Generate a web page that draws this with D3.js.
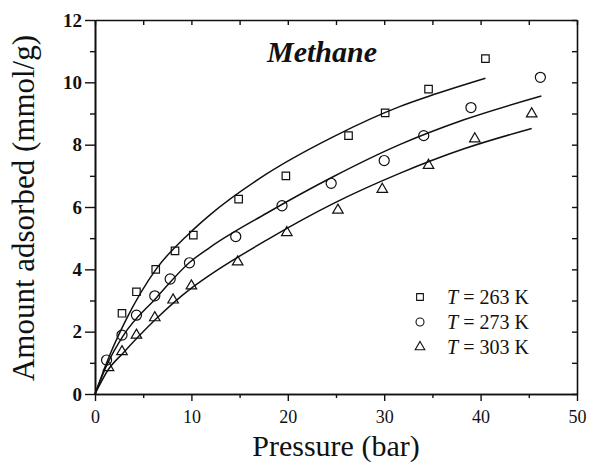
<!DOCTYPE html>
<html>
<head>
<meta charset="utf-8">
<script src="https://cdn.jsdelivr.net/npm/d3@7"></script>
<style>
  body { margin: 0; background: #fff; }
</style>
</head>
<body>
<svg width="590" height="462"></svg>
<script>
// measured points (pressure in bar, uptake in mmol/g)
var pressure263 = [2.8, 4.3, 6.3, 8.3, 10.2, 14.9, 19.8, 26.3, 30.1, 34.6, 40.5];
var uptake263   = [2.59, 3.28, 4.0, 4.59, 5.10, 6.25, 7.0, 8.29, 9.02, 9.78, 10.76];
var pressure273 = [1.2, 2.8, 4.3, 6.2, 7.8, 9.8, 14.6, 19.4, 24.5, 30.0, 34.1, 39.0, 46.2];
var uptake273   = [1.09, 1.89, 2.53, 3.15, 3.69, 4.21, 5.05, 6.04, 6.76, 7.49, 8.29, 9.19, 10.16];
var pressure303 = [1.4, 2.8, 4.3, 6.2, 8.1, 10.0, 14.8, 19.9, 25.2, 29.8, 34.6, 39.4, 45.3];
var uptake303   = [0.88, 1.39, 1.92, 2.48, 3.05, 3.50, 4.27, 5.21, 5.93, 6.6, 7.37, 8.22, 9.02];

// fitted isotherms
var fitP263 = [0, 1.6, 3.2, 6.4, 9.8, 11.9, 17.8, 24.7, 31.6, 34.7, 40.5];
var fitQ263 = [0, 1.30, 2.37, 4.03, 5.16, 5.74, 7.06, 8.25, 9.22, 9.56, 10.13];
var fitP273 = [0, 1.3, 2.9, 6.4, 9.8, 11.9, 17.8, 24.7, 31.6, 38.2, 46.3];
var fitQ273 = [0, 0.98, 1.86, 3.1, 4.22, 4.7, 5.8, 6.97, 8.0, 8.79, 9.56];
var fitP303 = [0, 1.35, 2.9, 6.4, 9.8, 11.6, 17.8, 24.7, 31.6, 38.2, 45.3];
var fitQ303 = [0, 0.77, 1.31, 2.43, 3.35, 3.75, 4.94, 6.11, 7.08, 7.86, 8.52];

var legendLabels = ["263 K", "273 K", "303 K"];
var xTicks = [0, 10, 20, 30, 40, 50];
var yTicks = [0, 2, 4, 6, 8, 10, 12];

var FONT = "'Liberation Serif', 'Times New Roman', Times, serif";

var svg = d3.select("svg");

var x = d3.scaleLinear().domain([0, 50]).range([95, 577]);
var y = d3.scaleLinear().domain([0, 12]).range([394, 20]);

var symbols = [d3.symbolSquare, d3.symbolCircle, d3.symbolTriangle];
var series = [
  {p: pressure263, q: uptake263, fp: fitP263, fq: fitQ263},
  {p: pressure273, q: uptake273, fp: fitP273, fq: fitQ273},
  {p: pressure303, q: uptake303, fp: fitP303, fq: fitQ303}
];

var axisStyle = function(g) {
  g.selectAll("path, line").attr("stroke", "#111").attr("stroke-width", 1.4);
  g.select(".domain").attr("stroke-width", 1.6);
};

// left axis: minor + major, outward
svg.append("g")
    .attr("transform", "translate(95,0)")
    .call(d3.axisLeft(y).tickValues(d3.range(1, 12, 2)).tickSize(5).tickSizeOuter(0).tickFormat(""))
    .call(axisStyle);
var yAx = svg.append("g")
    .attr("transform", "translate(95,0)")
    .call(d3.axisLeft(y).tickValues(yTicks).tickSize(10).tickSizeOuter(0).tickPadding(3).tickFormat(d3.format("d")))
    .call(axisStyle);
yAx.attr("font-family", null);
yAx.selectAll("text")
    .style("font-family", FONT)
    .style("font-size", "19px")
    .style("font-weight", "bold")
    .attr("fill", "#111");

// bottom axis
svg.append("g")
    .attr("transform", "translate(0,394)")
    .call(d3.axisBottom(x).tickValues(d3.range(5, 50, 10)).tickSize(4).tickSizeOuter(0).tickFormat(""))
    .call(axisStyle);
var xAx = svg.append("g")
    .attr("transform", "translate(0,394)")
    .call(d3.axisBottom(x).tickValues(xTicks).tickSize(7).tickSizeOuter(0).tickFormat(d3.format("d")))
    .call(axisStyle);
xAx.attr("font-family", null);
xAx.selectAll("text")
    .attr("y", 29).attr("dy", 0)
    .style("font-family", FONT)
    .style("font-size", "18px")
    .attr("fill", "#111");

// top and right: inward ticks, no labels
svg.append("g")
    .attr("transform", "translate(0,20)")
    .call(d3.axisBottom(x).tickValues(d3.range(0, 51, 5)).tickSize(5).tickSizeOuter(0).tickFormat(""))
    .call(axisStyle);
svg.append("g")
    .attr("transform", "translate(577,0)")
    .call(d3.axisLeft(y).tickValues(d3.range(0, 13, 1)).tickSize(5).tickSizeOuter(0).tickFormat(""))
    .call(axisStyle);

// fit lines
var line = d3.line()
    .x(function(d) { return x(d[0]); })
    .y(function(d) { return y(d[1]); })
    .curve(d3.curveMonotoneX);

series.forEach(function(s) {
  svg.append("path")
      .datum(s.fp.map(function(p, j) { return [p, s.fq[j]]; }))
      .attr("d", line)
      .attr("fill", "none")
      .attr("stroke", "#111")
      .attr("stroke-width", 1.5);
});

// markers
var sizes = [56, 80, 48];
series.forEach(function(s, i) {
  svg.append("g").selectAll("path")
    .data(s.p.map(function(p, j) { return [p, s.q[j]]; }))
    .enter().append("path")
      .attr("d", d3.symbol().type(symbols[i]).size(sizes[i]))
      .attr("transform", function(d) { return "translate(" + x(d[0]) + "," + (y(d[1]) + (i === 2 ? 1 : 0)) + ")"; })
      .attr("fill", "none")
      .attr("stroke", "#111")
      .attr("stroke-width", 1.2);
});

// legend
var legend = svg.append("g");
legendLabels.forEach(function(lab, i) {
  var ly = 297 + i * 25;
  legend.append("path")
      .attr("d", d3.symbol().type(symbols[i]).size([45, 50, 40][i]))
      .attr("transform", "translate(420," + ly + ")")
      .attr("fill", "none")
      .attr("stroke", "#111")
      .attr("stroke-width", 1.1);
  var t = legend.append("text")
      .attr("x", 447)
      .attr("y", ly + 7)
      .style("font-family", FONT)
      .style("font-size", "20px")
      .attr("fill", "#111");
  t.append("tspan").style("font-style", "italic").text("T");
  t.append("tspan").text(" = " + lab);
});

// title
svg.append("text")
    .attr("x", 322)
    .attr("y", 62)
    .attr("text-anchor", "middle")
    .style("font-family", FONT)
    .style("font-size", "30px")
    .style("font-weight", "bold")
    .style("font-style", "italic")
    .attr("fill", "#111")
    .text("Methane");

// axis titles
svg.append("text")
    .attr("x", 336)
    .attr("y", 456)
    .attr("text-anchor", "middle")
    .style("font-family", FONT)
    .style("font-size", "30px")
    .attr("fill", "#111")
    .text("Pressure (bar)");

svg.append("text")
    .attr("transform", "translate(34,208) rotate(-90)")
    .attr("text-anchor", "middle")
    .style("font-family", FONT)
    .style("font-size", "31px")
    .attr("fill", "#111")
    .text("Amount adsorbed (mmol/g)");
</script>
</body>
</html>
